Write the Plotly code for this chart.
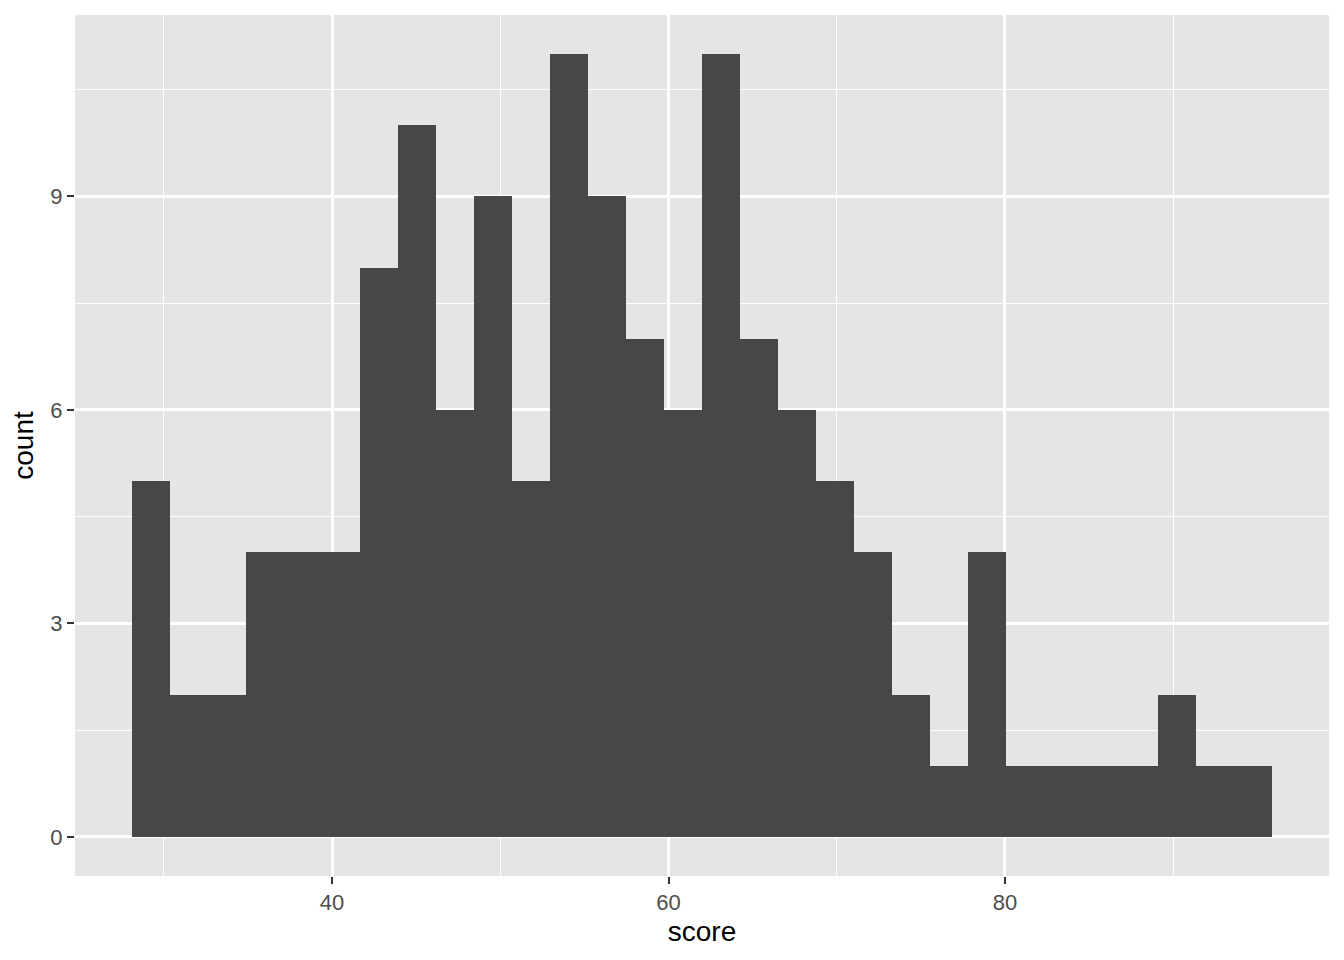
import plotly.graph_objects as go

# Histogram data (30 bins)
bin_start = 28.11
bin_width = 2.2587
counts = [5, 2, 2, 4, 4, 4, 8, 10, 6, 9, 5, 11, 9, 7, 6, 11, 7, 6, 5, 4,
          2, 1, 4, 1, 1, 1, 1, 2, 1, 1]
x_ticks = [40, 60, 80]
x_minor = [30, 50, 70, 90]
y_ticks = [0, 3, 6, 9]
y_minor = [1.5, 4.5, 7.5, 10.5]

centers = [bin_start + (i + 0.5) * bin_width for i in range(len(counts))]
x_lo = bin_start
x_hi = bin_start + bin_width * len(counts)
x_pad = (x_hi - x_lo) * 0.05
y_pad = max(counts) * 0.05

fig = go.Figure()
fig.add_trace(go.Bar(x=centers, y=counts, width=bin_width,
                     marker=dict(color="#474747", line=dict(width=0)),
                     hoverinfo="x+y"))

font = "Liberation Sans, Arial, Helvetica, sans-serif"
fig.update_layout(
    width=1344, height=960,
    margin=dict(l=67, r=23, t=7, b=92),
    paper_bgcolor="white", plot_bgcolor="#E5E5E5",
    showlegend=False, bargap=0,
    font=dict(family=font),
    xaxis=dict(range=[x_lo - x_pad, x_hi + x_pad], tickvals=x_ticks,
               showgrid=True, gridcolor="white", gridwidth=2.8,
               minor=dict(tickvals=x_minor, showgrid=True, gridcolor="white", gridwidth=1.4, ticks=""),
               zeroline=False, showline=False,
               ticks="outside", ticklen=7, tickwidth=2.2, tickcolor="#333333",
               tickfont=dict(size=22, color="#4D4D4D"),
               title=dict(text="score", font=dict(size=28, color="black"), standoff=6)),
    yaxis=dict(range=[-y_pad, max(counts) + y_pad], tickvals=y_ticks,
               showgrid=True, gridcolor="white", gridwidth=2.8,
               minor=dict(tickvals=y_minor, showgrid=True, gridcolor="white", gridwidth=1.4, ticks=""),
               zeroline=False, showline=False,
               ticks="outside", ticklen=7, tickwidth=2.2, tickcolor="#333333",
               tickfont=dict(size=22, color="#4D4D4D"),
               title=dict(text="count", font=dict(size=28, color="black"), standoff=8)),
)
fig.write_html("out.html")
